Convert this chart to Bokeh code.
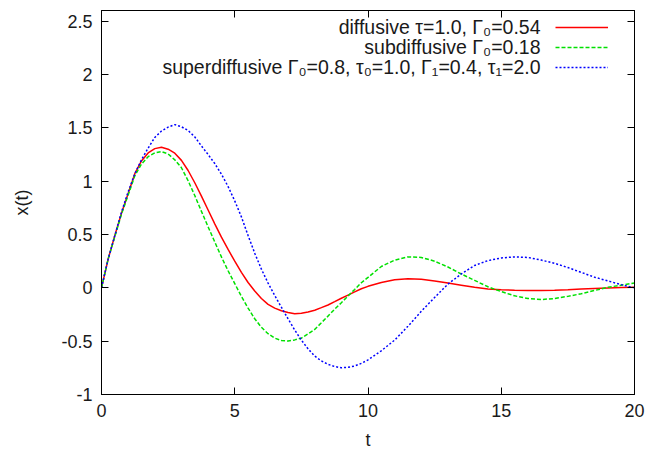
from bokeh.plotting import figure
from bokeh.models import (Range1d, FixedTicker, LinearAxis, Label, Legend, LegendItem,
                          CustomJSTickFormatter)
from bokeh.embed import file_html
from bokeh.resources import INLINE

# ---- data ----
t = [0.0, 0.25, 0.5, 0.75, 1.0, 1.25, 1.5, 1.75, 2.0, 2.25, 2.5, 2.75, 3.0, 3.25, 3.5,
     3.75, 4.0, 4.25, 4.5, 4.75, 5.0, 5.25, 5.5, 5.75, 6.0, 6.25, 6.5, 6.75, 7.0, 7.25,
     7.5, 7.75, 8.0, 8.25, 8.5, 8.75, 9.0, 9.25, 9.5, 9.75, 10.0,
     10.5, 11.0, 11.5, 12.0, 12.5, 13.0, 13.5, 14.0, 14.5, 15.0, 15.5, 16.0, 16.5,
     17.0, 17.5, 18.0, 18.5, 19.0, 19.5, 20.0]

diffusive = [0.00, 0.27, 0.49, 0.70, 0.885, 1.07, 1.19, 1.265, 1.305, 1.318, 1.30, 1.262,
             1.195, 1.10, 0.985, 0.86, 0.73, 0.60, 0.475, 0.36, 0.25, 0.145, 0.05, -0.03,
             -0.10, -0.155, -0.19, -0.215, -0.232, -0.243, -0.238, -0.227, -0.21,
             -0.186, -0.161, -0.13, -0.098, -0.068, -0.038, -0.009, 0.014,
             0.05, 0.075, 0.085, 0.08, 0.065, 0.045, 0.025, 0.005, -0.01, -0.018, -0.023,
             -0.025, -0.025, -0.022, -0.018, -0.012, -0.007, -0.002, 0.002, 0.005]

subdiffusive = [0.00, 0.27, 0.48, 0.69, 0.87, 1.05, 1.16, 1.23, 1.265, 1.277, 1.255, 1.20,
                1.126, 1.004, 0.865, 0.717, 0.572, 0.43, 0.29, 0.16, 0.04, -0.08,
                -0.19, -0.29, -0.37, -0.43, -0.472, -0.493, -0.499, -0.488, -0.472,
                -0.432, -0.39, -0.328, -0.265, -0.20, -0.14, -0.077, -0.015, 0.048, 0.098,
                0.20, 0.26, 0.29, 0.285, 0.25, 0.195, 0.13, 0.07, 0.01, -0.035, -0.075,
                -0.10, -0.11, -0.10, -0.08, -0.055, -0.025, 0.005, 0.025, 0.045]

superdiffusive = [0.00, 0.27, 0.49, 0.71, 0.90, 1.07, 1.20, 1.31, 1.41, 1.47, 1.507, 1.53,
                  1.51, 1.475, 1.415, 1.33, 1.25, 1.165, 1.065, 0.95, 0.815, 0.665, 0.49,
                  0.325, 0.175, 0.045, -0.072, -0.182, -0.29, -0.395, -0.49, -0.572,
                  -0.64, -0.685, -0.717, -0.738, -0.75, -0.745, -0.733, -0.708, -0.676,
                  -0.59, -0.49, -0.36, -0.22, -0.09, 0.035, 0.13, 0.21, 0.255, 0.28, 0.29,
                  0.285, 0.26, 0.23, 0.19, 0.145, 0.10, 0.065, 0.03, 0.0]

series_labels = ["diffusive \u03c4=1.0, \u0393\u2080=0.54",
                 "subdiffusive \u0393\u2080=0.18",
                 "superdiffusive \u0393\u2080=0.8, \u03c4\u2080=1.0, \u0393\u2081=0.4, \u03c4\u2081=2.0"]

x_ticks = [0, 5, 10, 15, 20]
x_tick_labels = ["0", "5", "10", "15", "20"]
y_ticks = [-1, -0.5, 0, 0.5, 1, 1.5, 2, 2.5]
y_tick_labels = ["-1", "-0.5", "0", "0.5", "1", "1.5", "2", "2.5"]

FONT = "Liberation Sans"
FS = "18px"
TXT = "#1a1a1a"

p = figure(width=648, height=455, output_backend="svg", toolbar_location=None,
           x_range=Range1d(0, 20), y_range=Range1d(-1, 2.6),
           min_border_left=101, min_border_right=14, min_border_top=10,
           min_border_bottom=61)
p.grid.visible = False
p.outline_line_color = "black"
p.outline_line_width = 1
p.background_fill_color = "white"
p.border_fill_color = "white"

def style_axis(ax, ticks, labels=None, show=True):
    ax.ticker = FixedTicker(ticks=ticks)
    ax.axis_line_color = "black"
    ax.major_tick_line_color = "black"
    ax.major_tick_in = 7
    ax.major_tick_out = 0
    ax.minor_tick_line_color = None
    ax.major_label_text_font = FONT
    ax.major_label_text_font_size = FS
    ax.major_label_text_color = TXT
    ax.axis_label_text_font = FONT
    ax.axis_label_text_font_size = FS
    ax.axis_label_text_font_style = "normal"
    ax.axis_label_text_color = TXT
    if show:
        ax.major_label_overrides = {tk: lb for tk, lb in zip(ticks, labels)}
        ax.major_label_standoff = 9
    else:
        ax.formatter = CustomJSTickFormatter(code="return ''")
        ax.major_label_standoff = 0

style_axis(p.xaxis[0], x_ticks, x_tick_labels)
style_axis(p.yaxis[0], y_ticks, y_tick_labels)
p.xaxis[0].axis_label = "t"
p.xaxis[0].axis_label_standoff = 10
p.yaxis[0].axis_label = "x(t)"
p.yaxis[0].axis_label_standoff = 26

top = LinearAxis()
style_axis(top, x_ticks, show=False)
p.add_layout(top, "above")
right = LinearAxis()
style_axis(right, y_ticks, show=False)
p.add_layout(right, "right")

r1 = p.line(t, diffusive, line_color="#ff0000", line_width=1.5)
r2 = p.line(t, subdiffusive, line_color="#00e000", line_width=1.5, line_dash="4 2")
r3 = p.line(t, superdiffusive, line_color="#0000ff", line_width=1.5, line_dash="2 2")

# gnuplot-style key: right-aligned text, sample line to its right
legend = Legend(items=[LegendItem(label=" ", renderers=[r]) for r in (r1, r2, r3)],
                location=(454, 317), orientation="vertical",
                glyph_width=53, glyph_height=20, label_width=0, label_height=20,
                label_standoff=0, spacing=0, padding=0, margin=0,
                label_text_font_size="1px",
                background_fill_alpha=0, border_line_alpha=0)
p.add_layout(legend, "center")

for i, txt in enumerate(series_labels):
    p.add_layout(Label(x=439, y=368 - 20 * i, x_units="screen", y_units="screen",
                       text=txt, text_align="right", text_baseline="middle",
                       text_font=FONT, text_font_size="19.5px", text_color=TXT))

open("out.html", "w").write(file_html(p, INLINE))
